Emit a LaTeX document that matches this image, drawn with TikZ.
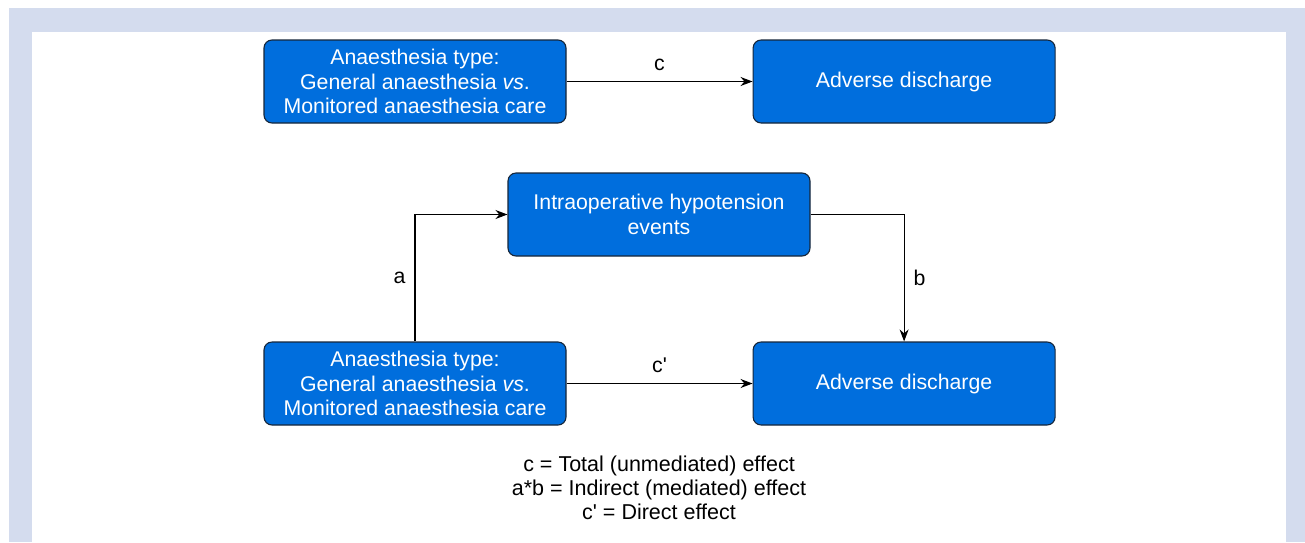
\documentclass[tikz,border=0pt]{standalone}
\usepackage{fontspec}
\setmainfont{Liberation Sans}
\usepackage{tikz}
\usetikzlibrary{positioning,arrows.meta}
\definecolor{boxBlue}{RGB}{0, 110, 221}
\definecolor{boxEdge}{RGB}{22, 38, 58}
\definecolor{frameGray}{RGB}{212, 220, 238}

\begin{document}
\begin{tikzpicture}[x=1pt,y=-1pt,
          box/.style={draw=boxEdge, line width=1.1pt, rounded corners=8pt, fill=boxBlue, text=white, minimum width=302pt, minimum height=83pt, align=center, inner sep=0pt, font=\fontsize{21.3}{24.5}\selectfont},
          arrow/.style={-{Stealth[length=12pt,width=9pt]}, line width=1.2pt, black},
          lbl/.style={font=\fontsize{21.3}{24}\selectfont, inner sep=0pt}
        ]
          \useasboundingbox (0,0) rectangle (1305,542);
          \fill[frameGray] (9,8) rectangle (1305,542);
          \fill[white] (32,32) rectangle (1286,542);
          % total effect
          \node[box] (gaTop) at (415,81.5) {Anaesthesia type:\\General anaesthesia \textit{vs}.\\Monitored anaesthesia care};
          \node[box,right=186pt of gaTop] (adTop) {Adverse discharge};
          % mediated effect
          \node[box] (hypo) at (659,214.5) {Intraoperative hypotension\\events};
          \node[box] (gaLow) at (415,383.5) {Anaesthesia type:\\General anaesthesia \textit{vs}.\\Monitored anaesthesia care};
          \node[box,right=186pt of gaLow] (adLow) {Adverse discharge};
          \draw[arrow] (gaTop) -- node[lbl,above=10pt] {c} (adTop);
          \draw[arrow] (gaLow) -- node[lbl,above=10pt] {c\textquotesingle} (adLow);
          \draw[arrow] (gaLow.north) |- node[lbl,pos=0.25,left=9pt] {a} (hypo.west);
          \draw[arrow] (hypo.east) -| node[lbl,pos=0.75,right=9pt] {b} (adLow.north);
          \node[lbl,align=center,font=\fontsize{21.5}{24}\selectfont] (legend) at (659,488) {c = Total (unmediated) effect\\a*b = Indirect (mediated) effect\\c\textquotesingle{} = Direct effect};
        \end{tikzpicture}
\end{document}
